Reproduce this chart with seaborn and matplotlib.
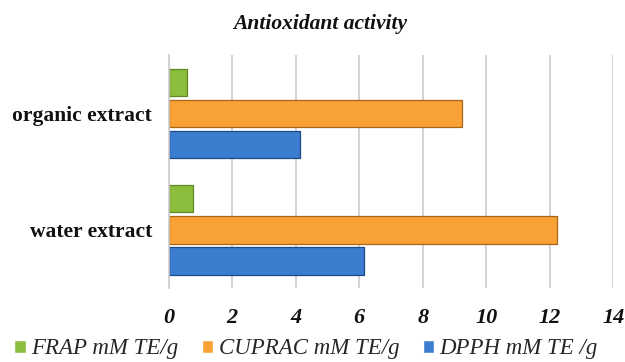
import matplotlib
matplotlib.use("Agg")
import matplotlib.pyplot as plt
import seaborn as sns
import pandas as pd

categories = ["organic extract", "water extract"]
series = ["FRAP mM TE/g", "CUPRAC mM TE/g", "DPPH mM TE /g"]
frap = [0.57, 0.75]
cuprac = [9.25, 12.23]
dpph = [4.15, 6.16]
xticks = [0, 2, 4, 6, 8, 10, 12, 14]

colors = ["#8cbd3c", "#f8a235", "#3b7dcf"]
edges = ["#5f8a22", "#a8661a", "#1f4a85"]

rows = []
for name, vals in zip(series, [frap, cuprac, dpph]):
    for c, v in zip(categories, vals):
        rows.append({"category": c, "series": name, "value": v})
df = pd.DataFrame(rows)

sns.set_theme(style="white")
plt.rcParams["font.family"] = ["Liberation Serif", "DejaVu Serif"]

fig = plt.figure(figsize=(6.25, 3.62), dpi=100)
ax = fig.add_axes([0.270, 0.204, 0.711, 0.644])

sns.barplot(data=df, y="category", x="value", hue="series",
            order=categories, hue_order=series, palette=colors,
            saturation=1, width=0.8, gap=0.12, orient="h", ax=ax, legend=True)

for container, ec in zip(ax.containers, edges):
    for bar in container:
        bar.set_edgecolor(ec)
        bar.set_linewidth(0.9)

ax.set_xlim(0, 14)
ax.set_ylim(1.5, -0.5)
ax.set_xticks(xticks)
ax.set_xticklabels([str(t) for t in xticks], fontsize=16, fontweight="bold", fontstyle="italic")
ax.set_yticklabels(categories, fontsize=15.5, fontweight="bold")
ax.tick_params(axis="x", length=0, pad=14, colors="#111111")
ax.tick_params(axis="y", length=0, pad=12, colors="#111111")
ax.xaxis.grid(True, color="#cccccc", linewidth=1.2)
ax.set_axisbelow(True)
for s in ["top", "right", "bottom"]:
    ax.spines[s].set_visible(False)
ax.spines["left"].set_color("#cccccc")
ax.spines["left"].set_linewidth(1.2)
ax.set_xlabel("")
ax.set_ylabel("")

fig.text(0.512, 0.935, "Antioxidant activity", ha="center", va="center",
         fontsize=15.5, fontweight="bold", fontstyle="italic", color="#111111")

handles, labels = ax.get_legend_handles_labels()
ax.legend_.remove()
fig.legend(handles, labels, loc="center", bbox_to_anchor=(0.49, 0.036),
           ncol=3, frameon=False, handlelength=0.5, handleheight=0.5,
           handletextpad=0.25, columnspacing=1.0, borderpad=0.1,
           prop={"size": 16.5, "style": "italic"})

fig.savefig("out.png", dpi=100)
